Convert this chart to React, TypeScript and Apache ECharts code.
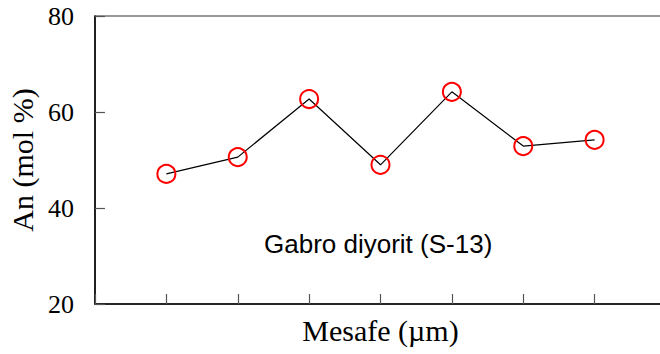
import React, { useEffect, useRef } from "react";
import * as echarts from "echarts";

const positions = [1, 2, 3, 4, 5, 6, 7];
const anValues = [47.1, 50.6, 62.7, 49.0, 64.2, 52.9, 54.2];
const yTicks = { min: 20, max: 80, interval: 20 };
const xName = "Mesafe (µm)";
const yName = "An (mol %)";
const sampleLabel = "Gabro diyorit (S-13)";

const serif = "'Liberation Serif', 'Times New Roman', serif";
const sans = "'Liberation Sans', Arial, sans-serif";

export default function App() {
  const ref = useRef<HTMLDivElement>(null);
  useEffect(() => {
    if (!ref.current) return;
    const chart = echarts.init(ref.current, null, { renderer: "svg" });
    chart.setOption({
      animation: false,
      backgroundColor: "#fff",
      grid: {
        left: 95,
        top: 16,
        width: 571,
        height: 288,
        outerBoundsMode: "none",
        containLabel: false,
        show: true,
        borderColor: "#333",
        borderWidth: 1.2,
        backgroundColor: "transparent",
      },
      xAxis: {
        type: "value",
        min: 0,
        max: 8,
        interval: 1,
        name: xName,
        nameLocation: "middle",
        nameGap: 11,
        nameTextStyle: { fontFamily: serif, fontSize: 30, color: "#000" },
        axisLine: { show: true, lineStyle: { color: "#000", width: 1.5 } },
        axisTick: { show: true, inside: true, length: 10, lineStyle: { color: "#555", width: 1.2 } },
        axisLabel: { show: false },
        splitLine: { show: false },
      },
      yAxis: {
        type: "value",
        min: yTicks.min,
        max: yTicks.max,
        interval: yTicks.interval,
        name: yName,
        nameLocation: "middle",
        nameGap: 54,
        nameRotate: 90,
        nameTextStyle: { fontFamily: serif, fontSize: 30, color: "#000" },
        axisLine: { show: true, lineStyle: { color: "#000", width: 1.5 } },
        axisTick: { show: true, inside: true, length: 10, lineStyle: { color: "#555", width: 1.2 } },
        axisLabel: { fontFamily: serif, fontSize: 26, color: "#000", margin: 21 },
        splitLine: { show: false },
      },
      graphic: [
        {
          type: "text",
          left: 264,
          top: 231,
          style: { text: sampleLabel, font: `26px ${sans}`, fill: "#000" },
        },
      ],
      series: [
        {
          type: "line",
          data: positions.map((p, i) => [p, anValues[i]]),
          symbol: "circle",
          symbolSize: 18,
          lineStyle: { color: "#000", width: 1.2 },
          itemStyle: { color: "rgba(255,255,255,0)", borderColor: "#ff0000", borderWidth: 2 },
        },
      ],
    });
    return () => chart.dispose();
  }, []);
  return (
    <div
      ref={ref}
      style={{ position: "absolute", left: 0, top: 0, width: 660, height: 354 }}
    />
  );
}
